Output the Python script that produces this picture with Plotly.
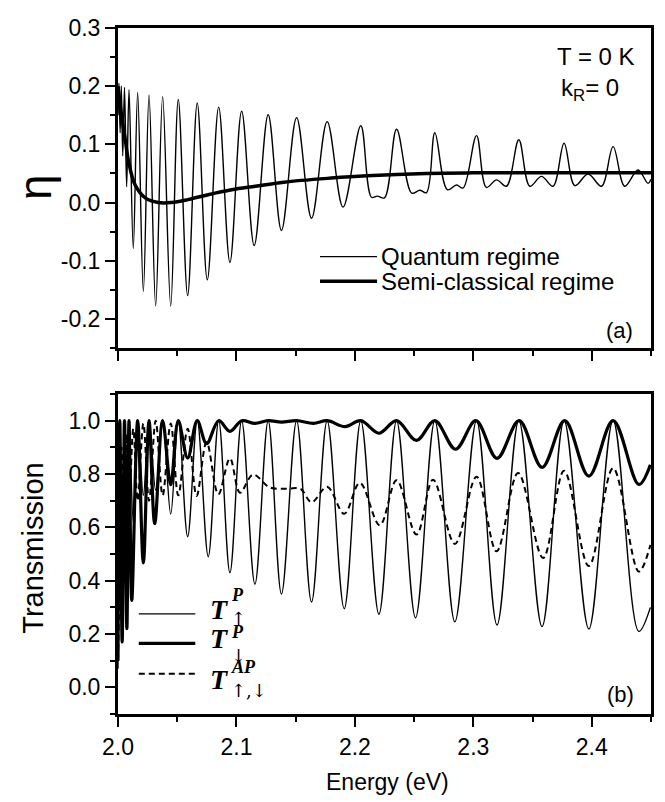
import plotly.graph_objects as go

# ---- panel (a): spin polarization eta vs energy ----
quantum_energy = [2.000, 2.0008, 2.0018, 2.0028, 2.0040, 2.0055, 2.0073, 2.0093, 2.0129, 2.0166,
                  2.0214, 2.0262, 2.0318, 2.0377, 2.0445, 2.0509, 2.0588, 2.0669, 2.0754, 2.0850,
                  2.0945, 2.1044, 2.1150, 2.1268, 2.1380, 2.1508, 2.1634, 2.1766, 2.1900, 2.2050,
                  2.2140, 2.2190, 2.2250, 2.2352, 2.2480, 2.2548, 2.2605, 2.2675, 2.2780, 2.2858,
                  2.2914, 2.3027, 2.3110, 2.3196, 2.3280, 2.3384, 2.3477, 2.3575, 2.3673, 2.3766,
                  2.3857, 2.3969, 2.4082, 2.4180, 2.4278, 2.4390, 2.4475, 2.4500]
quantum_eta = [0.150, 0.205, 0.120, 0.200, 0.080, 0.198, 0.027, 0.194, -0.079, 0.189,
               -0.153, 0.185, -0.178, 0.182, -0.178, 0.177, -0.160, 0.171, -0.133, 0.164,
               -0.103, 0.157, -0.074, 0.151, -0.048, 0.146, -0.027, 0.139, -0.008, 0.132,
               0.009, 0.011, 0.008, 0.126, 0.016, 0.021, 0.017, 0.120, 0.022, 0.030,
               0.025, 0.115, 0.026, 0.039, 0.028, 0.108, 0.028, 0.045, 0.028, 0.102,
               0.029, 0.049, 0.028, 0.096, 0.028, 0.056, 0.033, 0.040]

semi_energy = [2.000, 2.003, 2.006, 2.009, 2.0145, 2.023, 2.034, 2.045, 2.059, 2.076,
               2.096, 2.116, 2.140, 2.180, 2.210, 2.260, 2.300, 2.450]
semi_eta = [0.200, 0.150, 0.110, 0.070, 0.030, 0.008, 0.000, 0.000, 0.005, 0.0135,
            0.022, 0.028, 0.035, 0.042, 0.046, 0.050, 0.051, 0.051]

# ---- panel (b): transmission vs energy ----
up_energy = [2.000, 2.0015, 2.003, 2.0055, 2.0073, 2.0093, 2.0129, 2.0166, 2.0214, 2.0262,
             2.0318, 2.0377, 2.0445, 2.0509, 2.0588, 2.0669, 2.0762, 2.0850, 2.0945, 2.1044,
             2.1156, 2.1268, 2.1380, 2.1508, 2.1634, 2.1766, 2.1910, 2.2050, 2.2203, 2.2352,
             2.2512, 2.2675, 2.2844, 2.3027, 2.3200, 2.3384, 2.3580, 2.3766, 2.3975, 2.4180,
             2.4397, 2.4495]
up_T = [0.07, 1.0, 0.25, 1.0, 0.45, 1.0, 0.62, 1.0, 0.72, 1.0,
        0.74, 1.0, 0.65, 1.0, 0.565, 1.0, 0.49, 1.0, 0.43, 1.0,
        0.387, 1.0, 0.35, 1.0, 0.32, 1.0, 0.295, 1.0, 0.274, 1.0,
        0.261, 1.0, 0.246, 1.0, 0.234, 1.0, 0.228, 1.0, 0.219, 1.0,
        0.21, 0.30]

down_energy = [2.000, 2.0015, 2.0035, 2.0055, 2.0075, 2.0093, 2.0116, 2.0166, 2.0214, 2.0262,
               2.0310, 2.0377, 2.0445, 2.0509, 2.0588, 2.0669, 2.0748, 2.0850, 2.0945, 2.1044,
               2.1156, 2.1268, 2.1380, 2.1508, 2.1650, 2.1766, 2.1916, 2.2050, 2.2203, 2.2352,
               2.2520, 2.2675, 2.2850, 2.3021, 2.3200, 2.3387, 2.3580, 2.3772, 2.3975, 2.4180,
               2.4397, 2.4495]
down_T = [0.10, 1.0, 0.17, 1.0, 0.22, 1.0, 0.326, 1.0, 0.467, 1.0,
          0.614, 1.0, 0.76, 1.0, 0.86, 1.0, 0.914, 1.0, 0.96, 1.0,
          0.99, 1.0, 0.995, 1.0, 0.99, 1.0, 0.978, 1.0, 0.953, 1.0,
          0.926, 1.0, 0.893, 1.0, 0.859, 1.0, 0.825, 1.0, 0.792, 1.0,
          0.761, 0.835]

ap_energy = [2.000, 2.0015, 2.003, 2.0055, 2.0073, 2.0093, 2.0129, 2.0166, 2.0214, 2.0262,
             2.0318, 2.0377, 2.0445, 2.0509, 2.0588, 2.0664, 2.0748, 2.0847, 2.0945, 2.1030,
             2.1140, 2.1280, 2.1430, 2.1540, 2.1634, 2.1766, 2.1910, 2.2042, 2.2210, 2.2352,
             2.2520, 2.2660, 2.2844, 2.3027, 2.3196, 2.3378, 2.3589, 2.3766, 2.3975, 2.4180,
             2.4397, 2.4495]
ap_T = [0.10, 0.45, 0.90, 0.60, 0.95, 0.68, 0.97, 0.70, 0.99, 0.70,
        1.0, 0.72, 0.99, 0.72, 0.97, 0.718, 0.92, 0.724, 0.859, 0.73,
        0.798, 0.75, 0.745, 0.745, 0.694, 0.752, 0.651, 0.767, 0.608, 0.777,
        0.573, 0.779, 0.538, 0.79, 0.51, 0.804, 0.485, 0.8125, 0.455, 0.822,
        0.434, 0.534]

# ticks
energy_ticks = [2.0, 2.1, 2.2, 2.3, 2.4]
energy_labels = ["2.0", "2.1", "2.2", "2.3", "2.4"]
eta_ticks = [-0.2, -0.1, 0.0, 0.1, 0.2, 0.3]
eta_labels = ["-0.2", "-0.1", "0.0", "0.1", "0.2", "0.3"]
trans_ticks = [0.0, 0.2, 0.4, 0.6, 0.8, 1.0]
trans_labels = ["0.0", "0.2", "0.4", "0.6", "0.8", "1.0"]

SANS = "Liberation Sans"
SERIF = "Liberation Serif"

fig = go.Figure()

fig.add_trace(go.Scatter(x=quantum_energy, y=quantum_eta, mode="lines", name="Quantum regime",
                         line=dict(color="black", width=1.4, shape="spline", smoothing=1.0),
                         xaxis="x", yaxis="y"))
fig.add_trace(go.Scatter(x=semi_energy, y=semi_eta, mode="lines", name="Semi-classical regime",
                         line=dict(color="black", width=3.5, shape="spline", smoothing=1.0),
                         xaxis="x", yaxis="y"))

fig.add_trace(go.Scatter(x=up_energy, y=up_T, mode="lines", name="T up P",
                         line=dict(color="black", width=1.4, shape="spline", smoothing=1.0),
                         xaxis="x2", yaxis="y2"))
fig.add_trace(go.Scatter(x=down_energy, y=down_T, mode="lines", name="T down P",
                         line=dict(color="black", width=3.2, shape="spline", smoothing=1.0),
                         xaxis="x2", yaxis="y2"))
fig.add_trace(go.Scatter(x=ap_energy, y=ap_T, mode="lines", name="T AP",
                         line=dict(color="black", width=2, dash="6px,4px", shape="spline", smoothing=1.0),
                         xaxis="x2", yaxis="y2"))

minor_style = dict(ticks="outside", ticklen=5, tickwidth=2, tickcolor="black")
axis_common = dict(showgrid=False, zeroline=False, showline=True, linecolor="black", linewidth=3,
                   mirror=True, ticks="outside", ticklen=10, tickwidth=2, tickcolor="black",
                   ticklabeloverflow="allow",
                   tickfont=dict(family=SANS, size=23, color="black"))

top_y = [0.5336, 1.0]
bottom_y = [0.0, 0.4664]

# the page body adds an 8px offset, so the figure is 8px smaller than the window
fig.update_layout(
    width=657, height=794,
    margin=dict(l=110, r=14, t=7, b=88),
    plot_bgcolor="white", paper_bgcolor="white",
    showlegend=False,
    xaxis=dict(axis_common, domain=[0, 1], anchor="y", range=[2.0, 2.45],
               tickvals=energy_ticks, showticklabels=False,
               minor=dict(minor_style, tickmode="linear", tick0=2.0, dtick=0.05)),
    yaxis=dict(axis_common, domain=top_y, anchor="x", range=[-0.25, 0.3],
               tickvals=eta_ticks, ticktext=eta_labels,
               minor=dict(minor_style, tickmode="linear", tick0=0.0, dtick=0.05)),
    xaxis2=dict(axis_common, domain=[0, 1], anchor="y2", range=[2.0, 2.45],
                tickvals=energy_ticks, ticktext=energy_labels,
                minor=dict(minor_style, tickmode="linear", tick0=2.0, dtick=0.05)),
    yaxis2=dict(axis_common, domain=bottom_y, anchor="x2", range=[-0.1, 1.1],
                tickvals=trans_ticks, ticktext=trans_labels,
                minor=dict(minor_style, tickmode="linear", tick0=0.0, dtick=0.1)),
)


def note(text, x, y, size, xanchor="center", family=SANS, angle=0):
    fig.add_annotation(text=text, xref="paper", yref="paper", x=x, y=y, showarrow=False,
                       xanchor=xanchor, yanchor="middle", textangle=angle, borderpad=0,
                       font=dict(family=family, size=size, color="black"))


# axis titles
note("η", -0.156, 0.768, 46, angle=-90)
note("Transmission", -0.16, 0.242, 29, angle=-90)
note("Energy (eV)", 0.505, -0.099, 23)

# panel labels
note("T = 0 K", 0.822, 0.958, 24, xanchor="left")
note("k<sub>R</sub>= 0", 0.83, 0.911, 24, xanchor="left")
note("(a)", 0.968, 0.5594, 22, xanchor="right")
note("(b)", 0.970, 0.0286, 22, xanchor="right")

# legend of panel (a)
fig.add_shape(type="line", xref="paper", yref="paper", x0=0.379, x1=0.486, y0=0.6667, y1=0.6667,
              line=dict(color="black", width=1.4))
fig.add_shape(type="line", xref="paper", yref="paper", x0=0.379, x1=0.486, y0=0.6309, y1=0.6309,
              line=dict(color="black", width=3.5))
note("Quantum regime", 0.492, 0.6667, 24, xanchor="left")
note("Semi-classical regime", 0.492, 0.6309, 24, xanchor="left")

# legend of panel (b)
fig.add_shape(type="line", xref="paper", yref="paper", x0=0.039, x1=0.145, y0=0.1459, y1=0.1459,
              line=dict(color="black", width=1.4))
fig.add_shape(type="line", xref="paper", yref="paper", x0=0.039, x1=0.145, y0=0.103, y1=0.103,
              line=dict(color="black", width=3.2))
fig.add_shape(type="line", xref="paper", yref="paper", x0=0.039, x1=0.145, y0=0.0587, y1=0.0587,
              line=dict(color="black", width=2, dash="6px,4px"))

legend_b = [
    (0.153, "P", 0.1731, "↑", 0.1388),
    (0.110, "P", 0.1202, "↓", 0.0858),
    (0.050, "AP", 0.0687, "↑,↓", 0.0343),
]
for ty, sup, sy, sub, suby in legend_b:
    note("<i><b>T</b></i>", 0.1707, ty, 28, xanchor="left", family=SERIF)
    note("<i><b>" + sup + "</b></i>", 0.2103, sy, 18, xanchor="left", family=SERIF)
    note(sub, 0.2103, suby, 18, xanchor="left", family="DejaVu Serif")

fig.write_html("out.html")
